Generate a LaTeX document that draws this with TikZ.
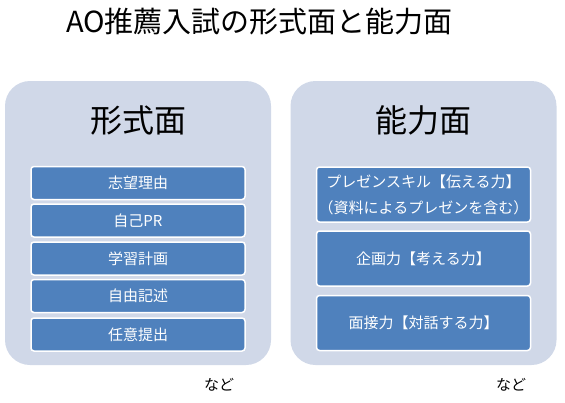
\documentclass[tikz,border=0pt]{standalone}
\usepackage{fontspec}
\setmainfont{Noto Sans CJK JP}
\usepackage{xcolor}
\definecolor{mPanelBg}{HTML}{D0D8E8}
\definecolor{mItemBlue}{HTML}{4F81BD}
\usetikzlibrary{positioning}

\begin{document}
\begin{tikzpicture}[x=1pt, y=-1pt,
  panel/.style={fill=mPanelBg, rounded corners=25pt, minimum width=266pt, minimum height=284pt, inner sep=0pt},
  item/.style={fill=mItemBlue, draw=white, line width=1.5pt, rounded corners=3pt, text=white, minimum width=214pt, inner sep=0pt, align=center, font=\fontsize{15}{26}\selectfont},
  head/.style={font=\fontsize{32}{36}\selectfont},
  note/.style={font=\fontsize{15}{16}\selectfont}]
\useasboundingbox (0,0) rectangle (565,402);
\node[font=\fontsize{29}{32}\selectfont] (T) at (259.5,22) {AO推薦入試の形式面と能力面};
% form side
\node[panel] (F) at (138,223) {};
\node[head] (FH) at (138,120) {形式面};
\node[item, minimum height=33pt] (F1) at (138,183) {志望理由};
\node[item, minimum height=33pt] (F2) at (138,220.5) {自己PR};
\node[item, minimum height=33pt] (F3) at (138,258.5) {学習計画};
\node[item, minimum height=33pt] (F4) at (138,296) {自由記述};
\node[item, minimum height=33pt] (F5) at (138,334.5) {任意提出};
\node[note] (FN) at (219,385) {など};
% ability side
\node[panel] (A) at (423.5,223) {};
\node[head] (AH) at (423,120) {能力面};
\node[item, minimum height=55pt] (A1) at (423.5,194.5) {プレゼンスキル【伝える力】\\（資料によるプレゼンを含む）};
\node[item, minimum height=55pt] (A2) at (423.5,258.5) {企画力【考える力】};
\node[item, minimum height=55pt] (A3) at (423.5,323) {面接力【対話する力】};
\node[note] (AN) at (511,385) {など};
\end{tikzpicture}
\end{document}
